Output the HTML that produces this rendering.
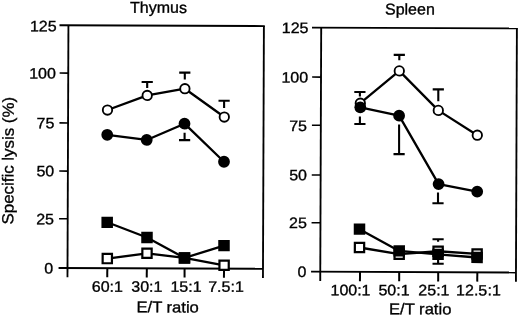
<!DOCTYPE html>
<html><head><meta charset="utf-8"><title>Specific lysis</title>
<style>
html,body{margin:0;padding:0;background:#fff;}
svg{display:block;font-family:"Liberation Sans",Arial,Helvetica,sans-serif;fill:#000;}
text{stroke:#000;stroke-width:0.35px;}
</style></head><body>
<svg width="520" height="318" viewBox="0 0 520 318">
<rect width="520" height="318" fill="#fff" stroke="none"/>
<g transform="rotate(0.2177 260.0 159.0)">
<line x1="59.00" y1="26.05" x2="264.32" y2="26.05" stroke="#000" stroke-width="1.85"/>
<line x1="67.92" y1="26.05" x2="67.92" y2="277.90" stroke="#000" stroke-width="1.85"/>
<line x1="263.40" y1="26.05" x2="263.40" y2="277.90" stroke="#000" stroke-width="1.85"/>
<line x1="59.00" y1="268.75" x2="263.40" y2="268.75" stroke="#000" stroke-width="1.85"/>
<line x1="59.30" y1="73.85" x2="67.92" y2="73.85" stroke="#000" stroke-width="1.55"/>
<line x1="59.30" y1="123.65" x2="67.92" y2="123.65" stroke="#000" stroke-width="1.55"/>
<line x1="59.30" y1="171.85" x2="67.92" y2="171.85" stroke="#000" stroke-width="1.55"/>
<line x1="59.30" y1="219.54" x2="67.92" y2="219.54" stroke="#000" stroke-width="1.55"/>
<line x1="107.72" y1="268.75" x2="107.72" y2="277.90" stroke="#000" stroke-width="2.0"/>
<line x1="147.22" y1="268.75" x2="147.22" y2="277.90" stroke="#000" stroke-width="2.0"/>
<line x1="185.02" y1="268.75" x2="185.02" y2="277.90" stroke="#000" stroke-width="2.0"/>
<line x1="224.42" y1="268.75" x2="224.42" y2="277.90" stroke="#000" stroke-width="2.0"/>
<line x1="311.50" y1="27.40" x2="517.32" y2="27.40" stroke="#000" stroke-width="1.85"/>
<line x1="320.70" y1="27.40" x2="320.70" y2="280.80" stroke="#000" stroke-width="1.85"/>
<line x1="516.40" y1="27.40" x2="516.40" y2="280.80" stroke="#000" stroke-width="1.85"/>
<line x1="311.50" y1="271.50" x2="516.40" y2="271.50" stroke="#000" stroke-width="1.85"/>
<line x1="311.80" y1="76.89" x2="320.70" y2="76.89" stroke="#000" stroke-width="1.55"/>
<line x1="311.80" y1="124.98" x2="320.70" y2="124.98" stroke="#000" stroke-width="1.55"/>
<line x1="311.80" y1="174.78" x2="320.70" y2="174.78" stroke="#000" stroke-width="1.55"/>
<line x1="311.80" y1="222.48" x2="320.70" y2="222.48" stroke="#000" stroke-width="1.55"/>
<line x1="360.43" y1="271.50" x2="360.43" y2="280.80" stroke="#000" stroke-width="2.0"/>
<line x1="399.63" y1="271.50" x2="399.63" y2="280.80" stroke="#000" stroke-width="2.0"/>
<line x1="438.63" y1="271.50" x2="438.63" y2="280.80" stroke="#000" stroke-width="2.0"/>
<line x1="477.73" y1="271.50" x2="477.73" y2="280.80" stroke="#000" stroke-width="2.0"/>
<text transform="translate(56.12,32.07) scale(1,0.94)" text-anchor="end" font-size="16">125</text>
<text transform="translate(55.60,79.38) scale(1,0.94)" text-anchor="end" font-size="16">100</text>
<text transform="translate(54.28,128.98) scale(1,0.94)" text-anchor="end" font-size="16">75</text>
<text transform="translate(54.27,177.18) scale(1,0.94)" text-anchor="end" font-size="16">50</text>
<text transform="translate(54.25,224.98) scale(1,0.94)" text-anchor="end" font-size="16">25</text>
<text transform="translate(53.54,274.39) scale(1,0.94)" text-anchor="end" font-size="16">0</text>
<text transform="translate(308.02,32.82) scale(1,0.94)" text-anchor="end" font-size="16">125</text>
<text transform="translate(307.81,82.42) scale(1,0.94)" text-anchor="end" font-size="16">100</text>
<text transform="translate(306.89,130.82) scale(1,0.94)" text-anchor="end" font-size="16">75</text>
<text transform="translate(307.08,180.12) scale(1,0.94)" text-anchor="end" font-size="16">50</text>
<text transform="translate(307.06,227.92) scale(1,0.94)" text-anchor="end" font-size="16">25</text>
<text transform="translate(306.85,276.92) scale(1,0.94)" text-anchor="end" font-size="16">0</text>
<text transform="translate(107.81,292.38) scale(1,0.94)" text-anchor="middle" font-size="16">60:1</text>
<text transform="translate(147.31,292.23) scale(1,0.94)" text-anchor="middle" font-size="16">30:1</text>
<text transform="translate(186.51,292.08) scale(1,0.94)" text-anchor="middle" font-size="16">15:1</text>
<text transform="translate(226.50,291.93) scale(1,0.94)" text-anchor="middle" font-size="16">7.5:1</text>
<text transform="translate(351.02,294.96) scale(1,0.94)" text-anchor="middle" font-size="16">100:1</text>
<text transform="translate(394.52,294.79) scale(1,0.94)" text-anchor="middle" font-size="16">50:1</text>
<text transform="translate(434.42,294.64) scale(1,0.94)" text-anchor="middle" font-size="16">25:1</text>
<text transform="translate(456.62,294.55) scale(1,0.94)" text-anchor="start" font-size="16">12.5</text>
<text transform="translate(501.42,294.38) scale(1,0.94)" text-anchor="end" font-size="16">:1</text>
<text transform="translate(168.23,312.75) scale(1,0.94)" text-anchor="middle" font-size="16.6">E/T ratio</text>
<text transform="translate(420.79,313.69) scale(1,0.94)" text-anchor="middle" font-size="16.6">E/T ratio</text>
<text transform="translate(157.95,13.19) scale(1,0.98)" text-anchor="middle" font-size="16">Thymus</text>
<text transform="translate(409.35,13.93) scale(1,0.98)" text-anchor="middle" font-size="16">Spleen</text>
<text transform="translate(13.61,161.64) rotate(-90) scale(1,0.95)" text-anchor="middle" font-size="16.9">Specific lysis (%)</text>
<line x1="146.93" y1="88.43" x2="146.91" y2="82.43" stroke="#000" stroke-width="2.1"/>
<line x1="141.31" y1="82.45" x2="152.51" y2="82.41" stroke="#000" stroke-width="2.1"/>
<line x1="184.50" y1="79.89" x2="184.47" y2="72.89" stroke="#000" stroke-width="2.1"/>
<line x1="178.87" y1="72.91" x2="190.07" y2="72.87" stroke="#000" stroke-width="2.1"/>
<line x1="223.91" y1="108.04" x2="223.88" y2="100.84" stroke="#000" stroke-width="2.1"/>
<line x1="218.28" y1="100.86" x2="229.48" y2="100.82" stroke="#000" stroke-width="2.1"/>
<line x1="184.50" y1="132.99" x2="184.53" y2="140.39" stroke="#000" stroke-width="2.1"/>
<line x1="178.93" y1="140.41" x2="190.13" y2="140.37" stroke="#000" stroke-width="2.1"/>
<polyline fill="none" stroke="#000" stroke-width="2.3" stroke-linejoin="round" points="107.68,259.18 147.36,253.73 184.88,258.19 224.50,265.44"/>
<rect x="103.03" y="254.53" width="9.30" height="9.30" fill="#fff" stroke="#000" stroke-width="2.2"/>
<rect x="142.71" y="249.08" width="9.30" height="9.30" fill="#fff" stroke="#000" stroke-width="2.2"/>
<rect x="180.23" y="253.54" width="9.30" height="9.30" fill="#fff" stroke="#000" stroke-width="2.2"/>
<rect x="219.85" y="260.79" width="9.30" height="9.30" fill="#fff" stroke="#000" stroke-width="2.2"/>
<polyline fill="none" stroke="#000" stroke-width="2.3" stroke-linejoin="round" points="107.44,222.88 147.30,237.93 184.88,258.19 224.33,245.74"/>
<rect x="101.69" y="217.23" width="11.50" height="11.30" fill="#000"/>
<rect x="141.55" y="232.28" width="11.50" height="11.30" fill="#000"/>
<rect x="179.13" y="252.54" width="11.50" height="11.30" fill="#000"/>
<rect x="218.58" y="240.09" width="11.50" height="11.30" fill="#000"/>
<polyline fill="none" stroke="#000" stroke-width="2.3" stroke-linejoin="round" points="107.16,135.38 146.63,140.38 184.37,123.99 224.01,161.89"/>
<circle cx="107.16" cy="135.38" r="5.90" fill="#000"/>
<circle cx="146.63" cy="140.38" r="5.90" fill="#000"/>
<circle cx="184.37" cy="123.99" r="5.90" fill="#000"/>
<circle cx="224.01" cy="161.89" r="5.90" fill="#000"/>
<polyline fill="none" stroke="#000" stroke-width="2.3" stroke-linejoin="round" points="107.31,110.58 146.96,95.83 184.63,88.99 224.14,117.14"/>
<circle cx="107.31" cy="110.58" r="4.70" fill="#fff" stroke="#000" stroke-width="1.85"/>
<circle cx="146.96" cy="95.83" r="4.70" fill="#fff" stroke="#000" stroke-width="1.85"/>
<circle cx="184.63" cy="88.99" r="4.70" fill="#fff" stroke="#000" stroke-width="1.85"/>
<circle cx="224.14" cy="117.14" r="4.70" fill="#fff" stroke="#000" stroke-width="1.85"/>
<line x1="359.66" y1="96.12" x2="359.64" y2="91.62" stroke="#000" stroke-width="2.1"/>
<line x1="354.04" y1="91.64" x2="365.24" y2="91.60" stroke="#000" stroke-width="2.1"/>
<line x1="398.92" y1="59.77" x2="398.90" y2="54.37" stroke="#000" stroke-width="2.1"/>
<line x1="393.30" y1="54.39" x2="404.50" y2="54.35" stroke="#000" stroke-width="2.1"/>
<line x1="438.08" y1="100.62" x2="438.03" y2="88.72" stroke="#000" stroke-width="2.1"/>
<line x1="432.43" y1="88.74" x2="443.63" y2="88.70" stroke="#000" stroke-width="2.1"/>
<line x1="359.74" y1="116.02" x2="359.77" y2="123.62" stroke="#000" stroke-width="2.1"/>
<line x1="354.17" y1="123.64" x2="365.37" y2="123.60" stroke="#000" stroke-width="2.1"/>
<line x1="398.97" y1="123.87" x2="399.08" y2="153.57" stroke="#000" stroke-width="2.1"/>
<line x1="393.48" y1="153.59" x2="404.68" y2="153.55" stroke="#000" stroke-width="2.1"/>
<line x1="438.13" y1="191.82" x2="438.17" y2="202.52" stroke="#000" stroke-width="2.1"/>
<line x1="432.57" y1="202.54" x2="443.77" y2="202.50" stroke="#000" stroke-width="2.1"/>
<line x1="438.41" y1="241.02" x2="438.40" y2="238.62" stroke="#000" stroke-width="2.1"/>
<line x1="432.80" y1="238.64" x2="444.00" y2="238.60" stroke="#000" stroke-width="2.1"/>
<line x1="438.48" y1="258.32" x2="438.50" y2="263.02" stroke="#000" stroke-width="2.1"/>
<line x1="432.90" y1="263.04" x2="444.10" y2="263.00" stroke="#000" stroke-width="2.1"/>
<polyline fill="none" stroke="#000" stroke-width="2.3" stroke-linejoin="round" points="359.84,247.12 399.56,253.62 438.45,250.57 477.46,253.12"/>
<rect x="355.19" y="242.47" width="9.30" height="9.30" fill="#fff" stroke="#000" stroke-width="2.2"/>
<rect x="394.91" y="248.97" width="9.30" height="9.30" fill="#fff" stroke="#000" stroke-width="2.2"/>
<rect x="433.80" y="245.92" width="9.30" height="9.30" fill="#fff" stroke="#000" stroke-width="2.2"/>
<rect x="472.81" y="248.47" width="9.30" height="9.30" fill="#fff" stroke="#000" stroke-width="2.2"/>
<polyline fill="none" stroke="#000" stroke-width="2.3" stroke-linejoin="round" points="359.77,228.82 399.55,250.37 438.46,253.62 477.47,256.67"/>
<rect x="354.02" y="223.17" width="11.50" height="11.30" fill="#000"/>
<rect x="393.80" y="244.72" width="11.50" height="11.30" fill="#000"/>
<rect x="432.71" y="247.97" width="11.50" height="11.30" fill="#000"/>
<rect x="471.72" y="251.02" width="11.50" height="11.30" fill="#000"/>
<polyline fill="none" stroke="#000" stroke-width="2.3" stroke-linejoin="round" points="360.09,102.82 398.96,70.37 438.11,109.72 477.21,134.37"/>
<circle cx="360.09" cy="102.82" r="4.70" fill="#fff" stroke="#000" stroke-width="1.85"/>
<circle cx="398.96" cy="70.37" r="4.70" fill="#fff" stroke="#000" stroke-width="1.85"/>
<circle cx="438.11" cy="109.72" r="4.70" fill="#fff" stroke="#000" stroke-width="1.85"/>
<circle cx="477.21" cy="134.37" r="4.70" fill="#fff" stroke="#000" stroke-width="1.85"/>
<polyline fill="none" stroke="#000" stroke-width="2.3" stroke-linejoin="round" points="360.10,106.92 398.93,115.17 438.69,183.42 477.32,190.77"/>
<circle cx="360.10" cy="106.92" r="5.90" fill="#000"/>
<circle cx="398.93" cy="115.17" r="5.90" fill="#000"/>
<circle cx="438.69" cy="183.42" r="5.90" fill="#000"/>
<circle cx="477.32" cy="190.77" r="5.90" fill="#000"/>
</g>
</svg>
</body></html>
